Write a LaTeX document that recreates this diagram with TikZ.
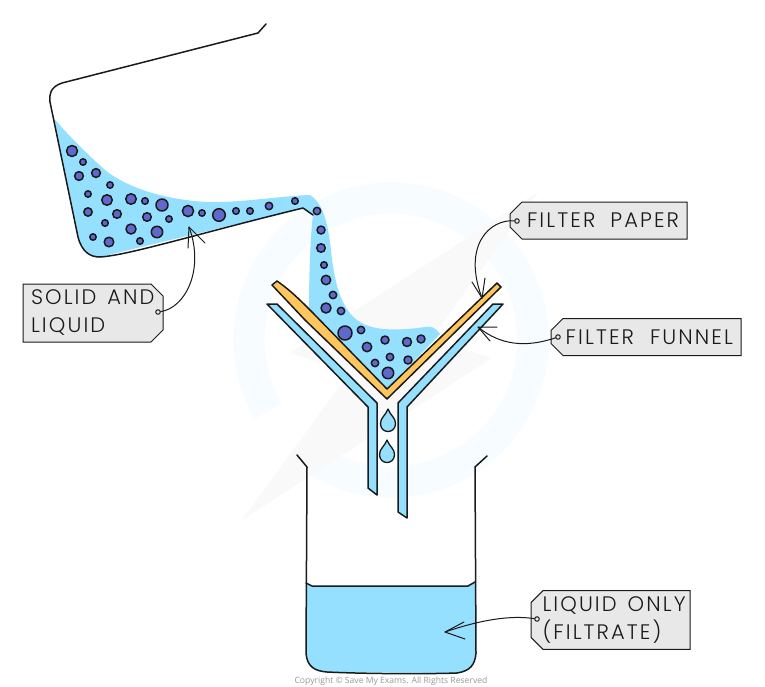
\documentclass[tikz,border=0pt]{standalone}
\usepackage{fontspec}
\setmainfont{Poppins}[UprightFont=* Light,UprightFeatures={LetterSpace=10}]
\newfontfamily\cprfont{Open Sans}
\usetikzlibrary{shapes.misc}
\definecolor{liq}{HTML}{95DFFF}
\definecolor{blob}{HTML}{6068CC}
\definecolor{paper}{HTML}{FFC65E}
\definecolor{tagfill}{HTML}{E8E8E8}
\definecolor{ink}{HTML}{1A1A1A}
\definecolor{wmblue}{HTML}{F6FCFF}
\definecolor{wmgrey}{HTML}{F9F9F9}
\tikzset{
  ln/.style={draw=ink,line width=1.5pt,line join=round,line cap=round},
  thin ln/.style={draw=ink,line width=1pt,line cap=round,line join=round},
  tag/.style={chamfered rectangle,chamfered rectangle angle=45,chamfered rectangle xsep=6pt,chamfered rectangle ysep=6pt,draw=ink,line width=1pt,fill=tagfill,inner sep=0pt,text=ink,font=\fontsize{21}{28}\selectfont},
  eyelet/.style={circle,draw=ink,line width=1pt,fill=tagfill,minimum size=4.5pt,inner sep=0pt},
  solidb/.style={ln,fill=blob},
}
\newcommand{\bl}[3]{\draw[solidb] (#1,#2) circle[radius=#3pt];}
\newcommand{\drp}[2]{\draw[ln,line width=1.3pt,fill=liq] (#1,#2) .. controls (#1+2,#2+6) and (#1+8,#2+9) .. (#1+7.5,#2+15) .. controls (#1+7,#2+25) and (#1-7,#2+25) .. (#1-7.5,#2+15) .. controls (#1-8,#2+9) and (#1-2,#2+6) .. (#1,#2) -- cycle;}
\begin{document}
\begin{tikzpicture}[x=1pt,y=-1pt]
\useasboundingbox[fill=white] (0,0) rectangle (765,686);
% watermark
\draw[wmblue,line width=31pt] ([shift={(391,340)}]150:142) arc[start angle=150,end angle=480,radius=142];
\fill[wmgrey] (538,192) -- (290,353) -- (350,372) -- (242,520) -- (492,358) -- (430,340) -- cycle;
% liquid
\fill[liq] (53,117) -- (78,237) .. controls (82,252) and (90,257) .. (100,257) -- (303,208) -- (313,215)
  .. controls (310,240) and (309,280) .. (309,310) -- (387,389) -- (440,334)
  .. controls (434,326) and (430,326) .. (425,327) .. controls (405,330) and (375,332) .. (360,322)
  .. controls (340,310) and (335,280) .. (332,260) .. controls (330,240) and (327,205) .. (310,195)
  .. controls (280,196) and (240,203) .. (207,202) .. controls (170,200) and (130,190) .. (105,170)
  .. controls (85,152) and (65,132) .. (53,117) -- cycle;
\fill[liq] (306,583) -- (312,586) -- (468,586) -- (475,582) -- (476,653) .. controls (475,665) and (470,671) .. (457,673) -- (327,672) .. controls (315,671) and (307,667) .. (306,653) -- cycle;
% flask
\draw[ln] (266,24) -- (258,33) -- (62,83) .. controls (50,87) and (49,95) .. (50,102) -- (78,237) .. controls (82,252) and (90,257) .. (100,257) .. controls (130,255) and (200,233) .. (303,208) -- (313,215);
% beaker
\draw[ln] (297,455) -- (307,467) -- (306,653) .. controls (307,667) and (315,671) .. (327,672) .. controls (370,674) and (430,674) .. (457,673) .. controls (470,671) and (475,665) .. (476,653) -- (475,467) -- (487,456);
\draw[ln] (306,583) -- (312,586) -- (468,586) -- (475,582);
% filter paper
\draw[ln,fill=paper] (277,281) .. controls (290,290) and (300,300) .. (312,312) -- (387,389) -- (497,283) -- (501,287) -- (387,399) -- (305,320) -- (272,285) -- cycle;
% filter funnel
\draw[ln,fill=liq] (267,304) -- (277,304) -- (377,403) -- (377,495) -- (368,488) -- (368,407) -- cycle;
\draw[ln,fill=liq] (503,304) -- (493,304) -- (398,403) -- (398,512) -- (407,518) -- (407,407) -- cycle;
% drops
\drp{388}{409}
\drp{387}{440}
% particles
\bl{72}{151}{5.5}\bl{83}{162}{3.2}\bl{79}{176}{4.4}\bl{96}{173}{4.4}\bl{110}{185}{3.2}
\bl{88}{194}{3.2}\bl{107}{200}{5.3}\bl{131}{199}{5.3}\bl{145}{201}{3.3}\bl{162}{205}{6}
\bl{88}{212}{4.2}\bl{117}{214}{4.3}\bl{147}{217}{4.3}\bl{169}{219}{3.2}\bl{188}{211}{5.6}
\bl{202}{213}{3.2}\bl{219}{215}{6.3}\bl{236}{211}{3.3}\bl{250}{211}{3.3}\bl{269}{206}{3.7}
\bl{295}{201}{3.3}\bl{317}{211}{3.7}\bl{105}{223}{3.3}\bl{131}{229}{5}\bl{157}{232}{5.7}
\bl{93}{237}{3.2}\bl{109}{242}{4.8}\bl{140}{241}{3.3}
\bl{321}{230}{4}\bl{321}{248}{4.3}\bl{324}{265}{3.3}\bl{326}{280}{4.7}\bl{333}{295}{3.7}
\bl{326}{308}{5}\bl{341}{311}{3.7}\bl{345}{333}{7}\bl{361}{330}{3.7}\bl{385}{340}{4}
\bl{367}{347}{4.7}\bl{407}{342}{4.5}\bl{421}{339}{4}\bl{390}{357}{3.7}\bl{408}{360}{4}
\bl{375}{363}{3.7}\bl{388}{373}{5.7}
% labels
\node[tag,chamfered rectangle corners={north east,south east},minimum width=140pt,minimum height=58pt,text width=124pt,align=left] (solid) at (93,313) {\mbox{SOLID\hspace{4pt} AND}\\LIQUID};
\node[tag,chamfered rectangle corners={north west,south west},minimum width=177pt,minimum height=37pt,text width=161pt,align=right] (fpaper) at (598.5,220.5) {\mbox{FILTER\hspace{8pt} PAPER}};
\node[tag,chamfered rectangle corners={north west,south west},minimum width=190pt,minimum height=37pt,text width=174pt,align=right] (ffunnel) at (646,337) {\mbox{FILTER\hspace{9pt} FUNNEL}};
\node[tag,chamfered rectangle corners={north west,south west},minimum width=159pt,minimum height=58pt,text width=143pt,align=left] (lonly) at (610.5,620) {\mbox{\hspace*{3.5pt}LIQUID\hspace{4pt} ONLY}\\\mbox{\hspace*{3.5pt}(FILTRATE)}};
\node[eyelet] (e1) at (158,312) {};
\node[eyelet] (e2) at (517,221) {};
\node[eyelet] (e3) at (558,337) {};
\node[eyelet] (e4) at (537,619) {};
% connector ends and barbs
\coordinate (t1) at (189,227); \coordinate (b1a) at (188,248); \coordinate (b1b) at (205,243);
\coordinate (t2) at (482,298); \coordinate (b2a) at (472,282); \coordinate (b2b) at (485,278);
\coordinate (t3) at (478,327); \coordinate (b3a) at (497,327); \coordinate (b3b) at (490,341);
\coordinate (t4) at (445,632); \coordinate (b4a) at (464,622); \coordinate (b4b) at (465,639);
\draw[thin ln] (e1) .. controls (185,308) and (205,270) .. (t1);
\draw[thin ln] (b1a) -- (t1) -- (b1b);
\draw[thin ln] (e2) .. controls (490,219) and (462,245) .. (t2);
\draw[thin ln] (b2a) -- (t2) -- (b2b);
\draw[thin ln] (e3) .. controls (525,348) and (500,345) .. (t3);
\draw[thin ln] (b3a) -- (t3) -- (b3b);
\draw[thin ln] (e4) .. controls (510,615) and (480,620) .. (t4);
\draw[thin ln] (b4a) -- (t4) -- (b4b);
% copyright
\node[anchor=base,text=black!40,font=\cprfont\fontsize{8.6}{10}\selectfont,inner sep=0pt] (cpr) at (391,683.5) {Copyright © Save My Exams. All Rights Reserved};
\end{tikzpicture}
\end{document}
